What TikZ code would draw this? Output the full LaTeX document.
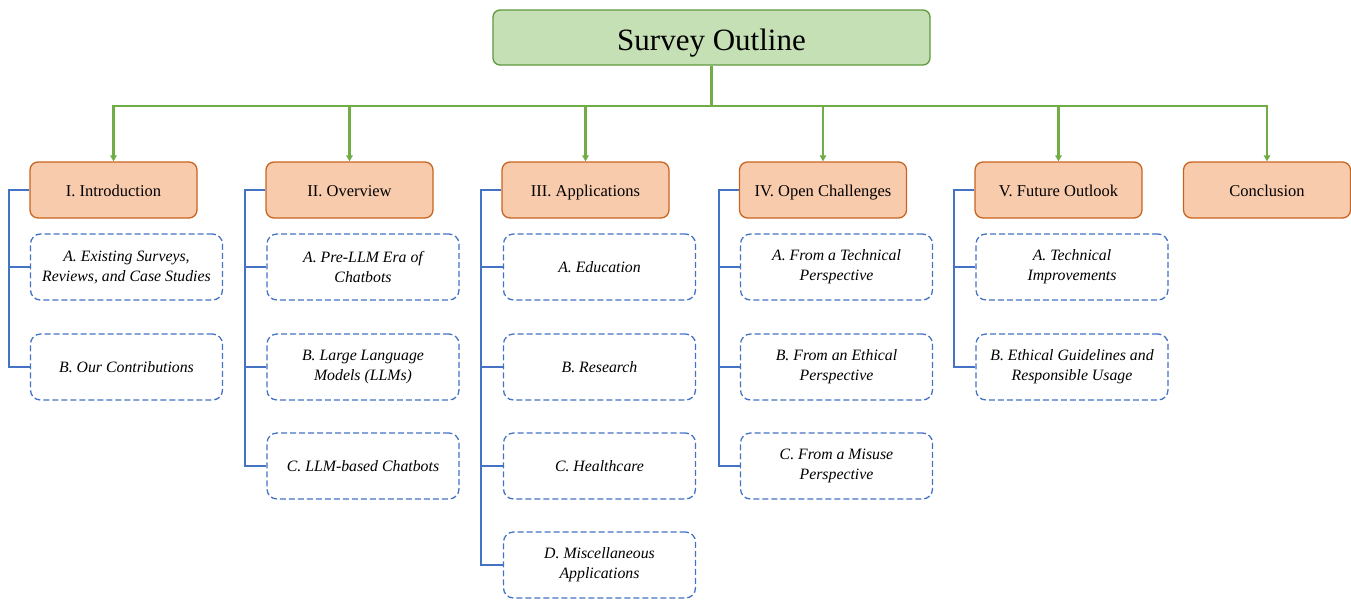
\documentclass[tikz,border=0pt]{standalone}
\usepackage{fontspec}
\setmainfont{Liberation Serif}
\usetikzlibrary{arrows.meta}

\definecolor{titlefill}{HTML}{C5E0B4}
\definecolor{titleline}{HTML}{5E9A3E}
\definecolor{headfill}{HTML}{F8CBAD}
\definecolor{headline}{HTML}{C9641F}
\definecolor{treegreen}{HTML}{70AD47}
\definecolor{treeblue}{HTML}{4472C4}

\tikzset{
  title/.style={draw=titleline, fill=titlefill, line width=1.3pt, rounded corners=7pt,
    minimum width=437pt, minimum height=55pt, text height=28pt, text depth=3pt,
    font=\fontsize{31}{35}\selectfont},
  head/.style={draw=headline, fill=headfill, line width=1.3pt, rounded corners=8pt,
    minimum width=167pt, minimum height=56pt, text height=14pt, text depth=2pt,
    font=\fontsize{16.5}{19}\selectfont},
  sub/.style={draw=treeblue, line width=1.3pt, dash pattern=on 6pt off 3pt, rounded corners=10pt,
    minimum width=192pt, minimum height=66pt, align=center,
    font=\fontsize{15.8}{20}\selectfont\itshape},
  bus/.style={draw=treegreen, line width=2.2pt},
  busarrow/.style={bus, -{Triangle[length=6pt,width=6.5pt]}},
  bracket/.style={draw=treeblue, line width=2.2pt}
}

\begin{document}
\begin{tikzpicture}[x=1pt,y=-1pt]
  \useasboundingbox (0,0) rectangle (1351,600);

  % top
  \node[title] (outline) at (711.5,37.5) {Survey Outline};
  \coordinate (split) at (711.5,106);

  % sections
  \node[head] (intro) at (113.5,190) {I. Introduction};
  \node[head] (overview) at (349.5,190) {II. Overview};
  \node[head] (apps) at (585.5,190) {III. Applications};
  \node[head] (open) at (823,190) {IV. Open Challenges};
  \node[head] (future) at (1058.5,190) {V. Future Outlook};
  \node[head] (concl) at (1267,190) {Conclusion};

  % subsections
  \node[sub] (intro-a) at (126.5,267) {A. Existing Surveys,\\Reviews, and Case Studies};
  \node[sub] (intro-b) at (126.5,367) {B. Our Contributions};

  \node[sub] (overview-a) at (363,267) {A. Pre-LLM Era of\\Chatbots};
  \node[sub] (overview-b) at (363,367) {B. Large Language\\Models (LLMs)};
  \node[sub] (overview-c) at (363,466) {C. LLM-based Chatbots};

  \node[sub] (apps-a) at (599.5,267) {A. Education};
  \node[sub] (apps-b) at (599.5,367) {B. Research};
  \node[sub] (apps-c) at (599.5,466) {C. Healthcare};
  \node[sub] (apps-d) at (599.5,565) {D. Miscellaneous\\Applications};

  \node[sub] (open-a) at (836.5,267) {A. From a Technical\\Perspective};
  \node[sub] (open-b) at (836.5,367) {B. From an Ethical\\Perspective};
  \node[sub] (open-c) at (836.5,466) {C. From a Misuse\\Perspective};

  \node[sub] (future-a) at (1072,267) {A. Technical\\Improvements};
  \node[sub] (future-b) at (1072,367) {B. Ethical Guidelines and\\Responsible Usage};

  % green tree
  \draw[bus] (outline.south) -- (split);
  \draw[busarrow] (split) -| (intro.north);
  \draw[busarrow] (split) -| (overview.north);
  \draw[busarrow] (split) -| (apps.north);
  \draw[busarrow] (split) -| (open.north);
  \draw[busarrow] (split) -| (future.north);
  \draw[busarrow] (split) -| (concl.north);

  % blue brackets
  \draw[bracket] (intro.west) -- ([xshift=-20pt]intro.west) |- (intro-b.west);
  \draw[bracket] ([xshift=-20pt]intro.west) |- (intro-a.west);

  \draw[bracket] (overview.west) -- ([xshift=-20pt]overview.west) |- (overview-c.west);
  \draw[bracket] ([xshift=-20pt]overview.west) |- (overview-a.west);
  \draw[bracket] ([xshift=-20pt]overview.west) |- (overview-b.west);

  \draw[bracket] (apps.west) -- ([xshift=-20pt]apps.west) |- (apps-d.west);
  \draw[bracket] ([xshift=-20pt]apps.west) |- (apps-a.west);
  \draw[bracket] ([xshift=-20pt]apps.west) |- (apps-b.west);
  \draw[bracket] ([xshift=-20pt]apps.west) |- (apps-c.west);

  \draw[bracket] (open.west) -- ([xshift=-20pt]open.west) |- (open-c.west);
  \draw[bracket] ([xshift=-20pt]open.west) |- (open-a.west);
  \draw[bracket] ([xshift=-20pt]open.west) |- (open-b.west);

  \draw[bracket] (future.west) -- ([xshift=-20pt]future.west) |- (future-b.west);
  \draw[bracket] ([xshift=-20pt]future.west) |- (future-a.west);
\end{tikzpicture}
\end{document}
